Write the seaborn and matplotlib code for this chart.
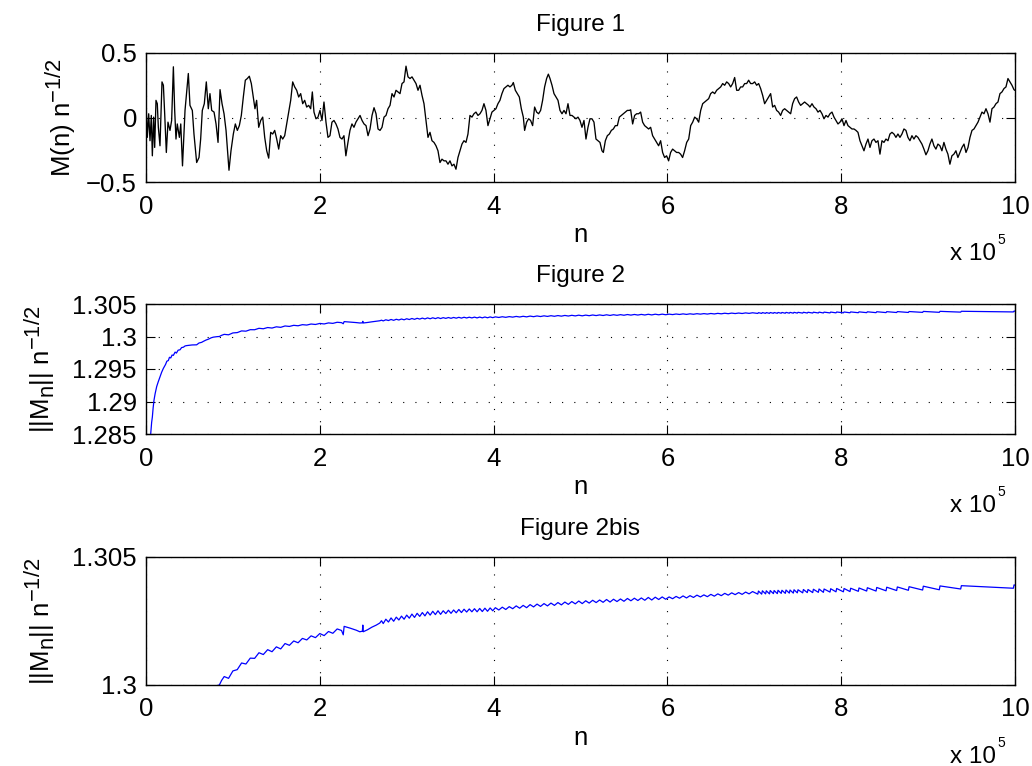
import matplotlib
matplotlib.use("Agg")
import numpy as np
import matplotlib.pyplot as plt
import matplotlib.transforms as mtransforms
import matplotlib._mathtext as mathtext_impl
from matplotlib.ticker import FuncFormatter
import seaborn as sns

# ----------------------------
# Data (n in units of 1e5)
# ----------------------------
walk_n = [
    0.000, 0.015, 0.031, 0.046, 0.061, 0.073, 0.088, 0.100, 0.115, 0.130,
    0.142, 0.161, 0.184, 0.200, 0.215, 0.234, 0.253, 0.276, 0.295, 0.315,
    0.330, 0.345, 0.360, 0.384, 0.400, 0.420, 0.449, 0.487, 0.506, 0.533,
    0.552, 0.583, 0.610, 0.629, 0.648, 0.671, 0.694, 0.717, 0.736, 0.756,
    0.783, 0.806, 0.829, 0.852, 0.875, 0.898, 0.921, 0.955, 0.978, 1.005,
    1.028, 1.051, 1.074, 1.097, 1.120, 1.143, 1.166, 1.189, 1.212, 1.235,
    1.254, 1.273, 1.297, 1.320, 1.343, 1.366, 1.389, 1.412, 1.435, 1.458,
    1.481, 1.504, 1.527, 1.550, 1.573, 1.596, 1.619, 1.642, 1.665, 1.688,
    1.711, 1.734, 1.757, 1.780, 1.803, 1.826, 1.849, 1.872, 1.895, 1.914,
    1.933, 1.956, 1.979, 2.002, 2.025, 2.048, 2.071, 2.094, 2.117, 2.140,
    2.163, 2.186, 2.209, 2.232, 2.255, 2.278, 2.300, 2.324, 2.347, 2.370,
    2.393, 2.416, 2.440, 2.463, 2.486, 2.509, 2.532, 2.555, 2.578, 2.601,
    2.624, 2.647, 2.670, 2.693, 2.716, 2.739, 2.762, 2.785, 2.808, 2.831,
    2.854, 2.877, 2.900, 2.923, 2.946, 2.969, 2.992, 3.015, 3.038, 3.061,
    3.084, 3.107, 3.130, 3.153, 3.176, 3.199, 3.222, 3.245, 3.268, 3.291,
    3.314, 3.337, 3.360, 3.383, 3.406, 3.429, 3.452, 3.475, 3.498, 3.521,
    3.544, 3.567, 3.590, 3.613, 3.636, 3.659, 3.682, 3.705, 3.728, 3.751,
    3.774, 3.797, 3.820, 3.843, 3.866, 3.889, 3.912, 3.935, 3.958, 3.981,
    4.004, 4.027, 4.050, 4.073, 4.096, 4.119, 4.142, 4.165, 4.188, 4.211,
    4.227, 4.250, 4.273, 4.296, 4.319, 4.342, 4.357, 4.380, 4.403, 4.426,
    4.449, 4.472, 4.495, 4.518, 4.541, 4.564, 4.587, 4.610, 4.630, 4.649,
    4.672, 4.695, 4.718, 4.741, 4.764, 4.787, 4.810, 4.833, 4.856, 4.879,
    4.902, 4.925, 4.948, 4.971, 4.994, 5.017, 5.040, 5.063, 5.086, 5.109,
    5.132, 5.155, 5.178, 5.201, 5.224, 5.247, 5.263, 5.286, 5.309, 5.332,
    5.355, 5.378, 5.401, 5.424, 5.447, 5.470, 5.493, 5.516, 5.539, 5.562,
    5.577, 5.600, 5.623, 5.646, 5.669, 5.692, 5.715, 5.738, 5.761, 5.784,
    5.807, 5.830, 5.853, 5.876, 5.899, 5.922, 5.945, 5.968, 5.991, 6.014,
    6.037, 6.060, 6.083, 6.106, 6.129, 6.152, 6.175, 6.198, 6.222, 6.245,
    6.268, 6.291, 6.314, 6.337, 6.360, 6.383, 6.406, 6.429, 6.452, 6.475,
    6.498, 6.521, 6.544, 6.567, 6.590, 6.613, 6.636, 6.659, 6.682, 6.705,
    6.728, 6.751, 6.774, 6.797, 6.820, 6.843, 6.866, 6.889, 6.912, 6.935,
    6.958, 6.981, 7.004, 7.027, 7.050, 7.073, 7.096, 7.119, 7.142, 7.165,
    7.188, 7.211, 7.234, 7.257, 7.280, 7.303, 7.326, 7.349, 7.372, 7.395,
    7.418, 7.441, 7.464, 7.487, 7.510, 7.533, 7.556, 7.579, 7.602, 7.625,
    7.640, 7.664, 7.687, 7.710, 7.733, 7.756, 7.779, 7.802, 7.825, 7.848,
    7.871, 7.894, 7.917, 7.940, 7.963, 7.986, 8.009, 8.032, 8.055, 8.078,
    8.101, 8.124, 8.147, 8.170, 8.193, 8.216, 8.239, 8.262, 8.285, 8.308,
    8.331, 8.354, 8.377, 8.400, 8.423, 8.446, 8.469, 8.492, 8.515, 8.538,
    8.561, 8.584, 8.607, 8.630, 8.653, 8.676, 8.699, 8.722, 8.745, 8.768,
    8.791, 8.814, 8.837, 8.860, 8.883, 8.906, 8.929, 8.952, 8.975, 8.998,
    9.021, 9.044, 9.067, 9.090, 9.113, 9.136, 9.159, 9.182, 9.205, 9.228,
    9.251, 9.274, 9.297, 9.320, 9.343, 9.367, 9.390, 9.413, 9.436, 9.459,
    9.482, 9.505, 9.528, 9.551, 9.574, 9.597, 9.620, 9.643, 9.666, 9.689,
    9.712, 9.735, 9.758, 9.781, 9.804, 9.827, 9.850, 9.873, 9.896, 9.919,
    9.942, 9.965, 9.988, 10.000,
]
walk_m = [
    0.120, -0.154, 0.029, -0.180, 0.016, -0.297, 0.003, -0.232, 0.133, 0.107,
    -0.076, -0.219, 0.276, 0.250, 0.029, -0.271, -0.036, -0.100, -0.023, 0.393,
    0.055, -0.167, -0.050, -0.154, -0.050, -0.375, 0.055, 0.341, 0.094, 0.055,
    -0.128, -0.349, -0.310, -0.167, 0.055, 0.107, 0.276, 0.068, 0.185, 0.055,
    0.042, -0.050, -0.193, 0.216, 0.107, 0.029, -0.100, -0.409, -0.258, -0.128,
    -0.050, -0.100, -0.063, 0.016, 0.159, 0.289, 0.302, 0.320, 0.263, 0.159,
    0.068, 0.133, -0.076, -0.023, 0.003, -0.154, -0.258, -0.315, -0.115, -0.128,
    -0.100, -0.167, -0.245, -0.141, -0.167, -0.141, -0.050, 0.042, 0.133, 0.276,
    0.237, 0.211, 0.159, 0.185, 0.107, 0.133, 0.081, 0.094, 0.068, 0.198,
    0.042, -0.010, 0.003, 0.055, -0.023, 0.120, -0.036, -0.154, -0.141, -0.036,
    -0.023, -0.050, -0.089, -0.154, -0.167, -0.141, -0.297, -0.193, -0.100, -0.050,
    -0.076, -0.036, -0.010, 0.016, -0.023, -0.050, -0.063, -0.141, -0.089, 0.016,
    0.076, 0.029, -0.089, -0.100, -0.076, 0.003, 0.016, 0.068, 0.094, 0.185,
    0.159, 0.211, 0.198, 0.185, 0.263, 0.276, 0.398, 0.315, 0.302, 0.315,
    0.289, 0.263, 0.211, 0.250, 0.172, 0.107, -0.023, -0.154, -0.115, -0.180,
    -0.193, -0.219, -0.258, -0.349, -0.323, -0.336, -0.336, -0.362, -0.336, -0.375,
    -0.362, -0.401, -0.310, -0.258, -0.206, -0.180, -0.193, -0.128, 0.016, 0.003,
    0.029, 0.042, 0.016, 0.029, 0.055, 0.107, 0.055, -0.063, -0.010, 0.042,
    0.055, 0.068, 0.107, 0.133, 0.185, 0.224, 0.237, 0.250, 0.237, 0.250,
    0.271, 0.211, 0.185, 0.159, 0.068, 0.003, -0.100, -0.036, -0.010, -0.023,
    -0.063, 0.081, 0.042, 0.029, 0.055, 0.133, 0.237, 0.302, 0.336, 0.302,
    0.250, 0.185, 0.159, 0.133, 0.055, 0.029, 0.055, 0.029, 0.107, 0.016,
    0.016, 0.003, -0.010, 0.003, -0.023, -0.076, -0.023, -0.167, -0.076, -0.010,
    -0.010, -0.036, -0.167, -0.180, -0.193, -0.258, -0.271, -0.180, -0.141, -0.128,
    -0.100, -0.089, -0.063, -0.063, 0.003, 0.016, 0.029, 0.042, 0.055, 0.055,
    0.060, -0.050, 0.016, 0.029, 0.029, 0.042, -0.036, -0.063, -0.076, -0.089,
    -0.076, -0.141, -0.167, -0.193, -0.219, -0.180, -0.271, -0.310, -0.297, -0.336,
    -0.271, -0.245, -0.258, -0.271, -0.271, -0.284, -0.310, -0.258, -0.193, -0.167,
    -0.063, -0.036, 0.003, -0.010, -0.036, 0.055, 0.107, 0.120, 0.133, 0.146,
    0.185, 0.198, 0.185, 0.211, 0.224, 0.237, 0.263, 0.250, 0.276, 0.263,
    0.237, 0.263, 0.310, 0.211, 0.211, 0.237, 0.237, 0.263, 0.263, 0.289,
    0.263, 0.263, 0.276, 0.250, 0.263, 0.224, 0.172, 0.107, 0.133, 0.159,
    0.185, 0.081, 0.094, 0.055, 0.042, 0.016, 0.055, 0.068, 0.055, 0.042,
    0.029, 0.107, 0.146, 0.159, 0.120, 0.094, 0.107, 0.120, 0.107, 0.094,
    0.081, 0.107, 0.081, 0.068, 0.042, 0.055, 0.029, -0.010, 0.016, 0.003,
    0.029, 0.042, 0.003, -0.023, -0.050, -0.036, -0.010, -0.063, -0.023, -0.063,
    -0.076, -0.089, -0.089, -0.100, -0.115, -0.180, -0.219, -0.258, -0.206, -0.167,
    -0.232, -0.180, -0.167, -0.193, -0.180, -0.284, -0.180, -0.193, -0.167, -0.180,
    -0.128, -0.115, -0.128, -0.154, -0.128, -0.154, -0.128, -0.089, -0.100, -0.154,
    -0.180, -0.141, -0.167, -0.141, -0.154, -0.180, -0.206, -0.245, -0.289, -0.258,
    -0.206, -0.167, -0.219, -0.245, -0.206, -0.219, -0.258, -0.193, -0.245, -0.284,
    -0.362, -0.297, -0.284, -0.258, -0.310, -0.271, -0.232, -0.206, -0.271, -0.232,
    -0.154, -0.100, -0.089, -0.063, -0.036, 0.003, 0.042, 0.029, 0.068, 0.029,
    -0.036, 0.068, 0.081, 0.107, 0.120, 0.185, 0.198, 0.224, 0.237, 0.302,
    0.276, 0.250, 0.216, 0.210,
]

norm_n = [
    0.040, 0.054, 0.065, 0.073, 0.082, 0.092, 0.105, 0.123, 0.140, 0.161,
    0.180, 0.200, 0.225, 0.240, 0.257, 0.270, 0.285, 0.300, 0.315, 0.335,
    0.350, 0.370, 0.391, 0.410, 0.430, 0.450, 0.468, 0.500, 0.530, 0.560,
    0.583, 0.610, 0.640, 0.660, 0.690, 0.720, 0.750, 0.775, 0.800, 0.820,
    0.844, 0.870, 0.900, 0.950, 1.000, 1.050, 1.100, 1.150, 1.200, 1.250,
    1.300, 1.350, 1.400, 1.450, 1.500, 1.550, 1.600, 1.650, 1.700, 1.750,
    1.800, 1.850, 1.900, 1.950, 2.000, 2.050, 2.100, 2.150, 2.200, 2.250,
    2.270, 2.280, 2.350, 2.420, 2.460, 2.490, 2.495, 2.500, 2.550, 2.600,
    2.650, 2.690, 2.710, 2.730, 2.760, 2.790, 2.820, 2.850, 2.880, 2.910,
    2.940, 2.970, 3.000, 3.030, 3.060, 3.090, 3.120, 3.150, 3.180, 3.210,
    3.240, 3.270, 3.300, 3.330, 3.360, 3.390, 3.420, 3.450, 3.480, 3.510,
    3.540, 3.570, 3.600, 3.630, 3.660, 3.690, 3.720, 3.750, 3.780, 3.810,
    3.840, 3.870, 3.900, 3.930, 3.960, 3.990, 4.020, 4.060, 4.100, 4.140,
    4.180, 4.220, 4.260, 4.300, 4.340, 4.380, 4.420, 4.460, 4.500, 4.540,
    4.580, 4.620, 4.660, 4.700, 4.740, 4.780, 4.820, 4.860, 4.900, 4.940,
    4.980, 5.020, 5.060, 5.100, 5.140, 5.180, 5.220, 5.260, 5.300, 5.340,
    5.380, 5.420, 5.460, 5.500, 5.540, 5.580, 5.620, 5.660, 5.700, 5.740,
    5.780, 5.820, 5.860, 5.900, 5.940, 5.980, 6.020, 6.060, 6.100, 6.140,
    6.180, 6.220, 6.260, 6.300, 6.340, 6.380, 6.420, 6.460, 6.500, 6.540,
    6.580, 6.620, 6.660, 6.700, 6.740, 6.780, 6.820, 6.860, 6.900, 6.940,
    6.980, 7.040, 7.048, 7.085, 7.093, 7.130, 7.138, 7.175, 7.183, 7.220,
    7.228, 7.265, 7.273, 7.310, 7.318, 7.357, 7.365, 7.403, 7.411, 7.449,
    7.457, 7.495, 7.503, 7.557, 7.565, 7.610, 7.618, 7.672, 7.680, 7.737,
    7.745, 7.795, 7.803, 7.871, 7.879, 7.940, 7.948, 8.025, 8.033, 8.101,
    8.109, 8.197, 8.205, 8.293, 8.301, 8.401, 8.409, 8.516, 8.524, 8.638,
    8.646, 8.773, 8.781, 8.937, 8.945, 9.129, 9.137, 9.375, 9.383, 9.981,
    9.989, 10.000,
]
norm_val = [
    1.28300, 1.28500, 1.28680, 1.28760, 1.28900, 1.29020, 1.29120, 1.29230, 1.29300, 1.29380,
    1.29450, 1.29510, 1.29570, 1.29620, 1.29630, 1.29680, 1.29670, 1.29715, 1.29710, 1.29760,
    1.29745, 1.29790, 1.29795, 1.29830, 1.29835, 1.29855, 1.29860, 1.29865, 1.29870, 1.29872,
    1.29872, 1.29900, 1.29910, 1.29925, 1.29945, 1.29960, 1.29980, 1.29990, 1.29995, 1.29998,
    1.30000, 1.30018, 1.30033, 1.30026, 1.30055, 1.30060, 1.30086, 1.30082, 1.30105, 1.30104,
    1.30126, 1.30119, 1.30138, 1.30130, 1.30149, 1.30141, 1.30162, 1.30155, 1.30172, 1.30165,
    1.30182, 1.30176, 1.30192, 1.30185, 1.30201, 1.30193, 1.30209, 1.30202, 1.30219, 1.30213,
    1.30196, 1.30229, 1.30222, 1.30214, 1.30208, 1.30210, 1.30234, 1.30208, 1.30216, 1.30226,
    1.30234, 1.30242, 1.30251, 1.30240, 1.30257, 1.30246, 1.30262, 1.30249, 1.30265, 1.30254,
    1.30269, 1.30257, 1.30273, 1.30261, 1.30277, 1.30264, 1.30280, 1.30268, 1.30283, 1.30270,
    1.30286, 1.30273, 1.30288, 1.30275, 1.30290, 1.30276, 1.30290, 1.30279, 1.30292, 1.30280,
    1.30293, 1.30282, 1.30295, 1.30283, 1.30296, 1.30285, 1.30297, 1.30286, 1.30298, 1.30286,
    1.30299, 1.30287, 1.30300, 1.30288, 1.30301, 1.30290, 1.30302, 1.30293, 1.30304, 1.30295,
    1.30306, 1.30298, 1.30309, 1.30300, 1.30311, 1.30302, 1.30314, 1.30305, 1.30316, 1.30307,
    1.30318, 1.30309, 1.30320, 1.30311, 1.30322, 1.30313, 1.30324, 1.30315, 1.30326, 1.30317,
    1.30328, 1.30318, 1.30329, 1.30320, 1.30331, 1.30322, 1.30332, 1.30323, 1.30334, 1.30324,
    1.30335, 1.30326, 1.30336, 1.30327, 1.30338, 1.30329, 1.30339, 1.30330, 1.30340, 1.30331,
    1.30342, 1.30332, 1.30343, 1.30334, 1.30344, 1.30335, 1.30344, 1.30337, 1.30346, 1.30339,
    1.30348, 1.30340, 1.30349, 1.30342, 1.30351, 1.30344, 1.30352, 1.30345, 1.30354, 1.30347,
    1.30356, 1.30349, 1.30358, 1.30351, 1.30360, 1.30353, 1.30361, 1.30354, 1.30363, 1.30356,
    1.30365, 1.30355, 1.30367, 1.30355, 1.30368, 1.30356, 1.30368, 1.30356, 1.30369, 1.30357,
    1.30369, 1.30357, 1.30370, 1.30358, 1.30370, 1.30358, 1.30371, 1.30359, 1.30371, 1.30359,
    1.30372, 1.30360, 1.30372, 1.30360, 1.30373, 1.30361, 1.30373, 1.30361, 1.30374, 1.30362,
    1.30375, 1.30362, 1.30375, 1.30363, 1.30376, 1.30364, 1.30377, 1.30364, 1.30377, 1.30365,
    1.30378, 1.30366, 1.30379, 1.30367, 1.30380, 1.30367, 1.30381, 1.30368, 1.30382, 1.30369,
    1.30383, 1.30370, 1.30384, 1.30371, 1.30386, 1.30372, 1.30387, 1.30375, 1.30388, 1.30378,
    1.30391, 1.30390,
]

n_ticks = [0, 2, 4, 6, 8, 10]
walk_ticks = [-0.5, 0, 0.5]
norm_ticks = [1.285, 1.29, 1.295, 1.3, 1.305]
zoom_ticks = [1.3, 1.305]

# ----------------------------
# Style
# ----------------------------
sns.set_theme(style="white")
plt.rcParams["font.family"] = ["Liberation Sans", "DejaVu Sans"]
plt.rcParams["mathtext.default"] = "regular"
# MATLAB draws sub/superscripts in the axis labels nearly full size
mathtext_impl.SHRINK_FACTOR = 0.85
FS = 18.5
TITLE_FS = 17.5

fig = plt.figure(figsize=(10.32, 7.66), dpi=100)
left, width = 146 / 1032, 869 / 1032
ax1 = fig.add_axes([left, 1 - 182 / 766, width, 129 / 766])
ax2 = fig.add_axes([left, 1 - 434 / 766, width, 130 / 766])
ax3 = fig.add_axes([left, 1 - 685 / 766, width, 128 / 766])


def matlab_fmt(v, pos):
    return f"{v:g}".replace("-", "\u2212")


def style_axes(ax, ylim, yticks, title, ylabel, label_x):
    ax.set_xlim(0, 10)
    ax.set_ylim(*ylim)
    ax.set_xticks(n_ticks)
    ax.set_yticks(yticks)
    ax.xaxis.set_major_formatter(FuncFormatter(matlab_fmt))
    ax.yaxis.set_major_formatter(FuncFormatter(matlab_fmt))
    ax.tick_params(axis="both", direction="in", length=6.5, width=0.8,
                   colors="black", labelsize=FS, top=True, right=True,
                   bottom=True, left=True)
    ax.tick_params(axis="x", pad=9.0)
    ax.tick_params(axis="y", pad=6.5)
    ax.grid(True, color="black", linestyle=(0, (1, 10)), linewidth=0.8)
    for sp in ax.spines.values():
        sp.set_visible(True)
        sp.set_color("black")
        sp.set_linewidth(1.0)
    ax.set_title(title, fontsize=TITLE_FS, pad=15.5, color="black")
    ax.set_xlabel("n", fontsize=FS, labelpad=3, color="black")
    ax.set_ylabel(ylabel, fontsize=FS, color="black")
    ax.yaxis.set_label_coords(label_x, 0.5)
    # exponent label "x 10^5" under the right end of the axis
    base = mtransforms.offset_copy(ax.transAxes, fig=fig, x=0, y=-78, units="dots")
    ax.text((996 - 146) / 869, 0.0, "x 10", transform=base, ha="right",
            va="baseline", fontsize=TITLE_FS, color="black")
    sup = mtransforms.offset_copy(ax.transAxes, fig=fig, x=0, y=-62, units="dots")
    ax.text((997 - 146) / 869, 0.0, "5", transform=sup, ha="left",
            va="baseline", fontsize=10, color="black")


# ----------------------------
# Figure 1
# ----------------------------
sns.lineplot(x=walk_n, y=walk_m, ax=ax1, color="black", linewidth=0.95,
             estimator=None, sort=False)
style_axes(ax1, (-0.5, 0.5), walk_ticks, "Figure 1",
           "M(n) n$^{-1/2}$", (78 - 146) / 869)

# ----------------------------
# Figure 2
# ----------------------------
sns.lineplot(x=norm_n, y=norm_val, ax=ax2, color="#0000ff", linewidth=0.9,
             estimator=None, sort=False)
style_axes(ax2, (1.285, 1.305), norm_ticks, "Figure 2",
           "||M$_n$|| n$^{-1/2}$", (57 - 146) / 869)

# ----------------------------
# Figure 2bis
# ----------------------------
sns.lineplot(x=norm_n, y=norm_val, ax=ax3, color="#0000ff", linewidth=0.9,
             estimator=None, sort=False)
style_axes(ax3, (1.3, 1.305), zoom_ticks, "Figure 2bis",
           "||M$_n$|| n$^{-1/2}$", (57 - 146) / 869)

fig.savefig("out.png", dpi=100)
plt.close(fig)
